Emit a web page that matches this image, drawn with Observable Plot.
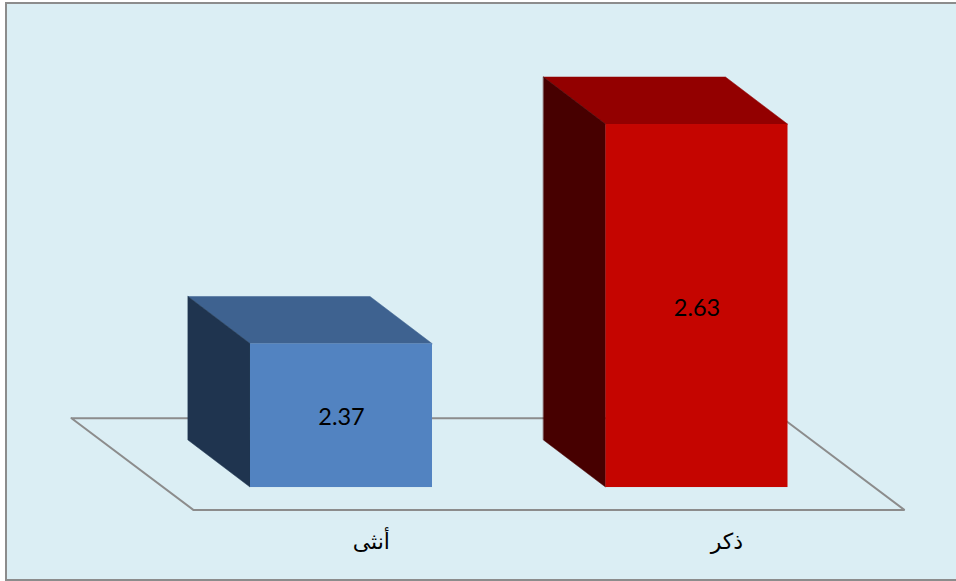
<!DOCTYPE html>
<html lang="ar">
<head>
<meta charset="utf-8">
<script src="https://cdn.jsdelivr.net/npm/d3@7"></script>
<script src="https://cdn.jsdelivr.net/npm/@observablehq/plot@0.6"></script>
<style>
html,body{margin:0;padding:0;background:#fff;width:956px;height:581px;overflow:hidden}
#panel{position:absolute;left:5px;top:2px;width:960px;height:575px;background:#dbeef4;border:2px solid #8c8c8c;box-sizing:content-box}
#chart{position:absolute;left:0;top:0}
#chart svg{background:transparent;display:block}
</style>
</head>
<body>
<div id="panel"></div>
<div id="chart"></div>
<script>
const categories = ["أنثى", "ذكر"];
const values = [2.37, 2.63];
const positions = [0, 1];
const frontColors = ["#5283c1", "#c50500"];
const topColors = ["#3e6290", "#930000"];
const sideColors = ["#1f344f", "#470000"];

const baseline = 2.2;
const labelLevel = 2.136;
const labelShift = 0.084;
const halfWidth = 0.256;
const depthX = 0.1744;
const depthY = 0.0557;
const floorX = [-0.7595, -0.416, 1.584, 1.2405, -0.7595];
const floorY = [2.2821, 2.1733, 2.1733, 2.2821, 2.2821];

const floor = floorX.map((x, i) => ({x, y: floorY[i]}));
const bars = categories.map((c, i) => ({c, p: positions[i], v: values[i], front: frontColors[i]}));
const sideFaces = categories.flatMap((c, i) => [
  {c, color: sideColors[i], x: positions[i] - halfWidth - depthX, y1: baseline + depthY, y2: values[i] + depthY},
  {c, color: sideColors[i], x: positions[i] - halfWidth, y1: baseline, y2: values[i]}
]);
const topFaces = categories.flatMap((c, i) => [
  {c, color: topColors[i], y: values[i], x1: positions[i] - halfWidth, x2: positions[i] + halfWidth},
  {c, color: topColors[i], y: values[i] + depthY, x1: positions[i] - halfWidth - depthX, x2: positions[i] + halfWidth - depthX}
]);

const chart = Plot.plot({
  width: 956,
  height: 581,
  margin: 0,
  style: {background: "transparent"},
  x: {domain: [-0.9592, 1.73], range: [0, 956], axis: null},
  y: {domain: [2.0887, 2.7769], range: [581, 0], axis: null},
  marks: [
    Plot.line(floor, {x: "x", y: "y", stroke: "#8c8c8c", strokeWidth: 2, strokeLinejoin: "miter"}),
    Plot.areaX(topFaces, {y: "y", x1: "x1", x2: "x2", z: "c", fill: "color", stroke: "color", strokeWidth: 0.5}),
    Plot.areaY(sideFaces, {x: "x", y1: "y1", y2: "y2", z: "c", fill: "color", stroke: "color", strokeWidth: 0.5}),
    Plot.rect(bars, {
      x1: d => d.p - halfWidth,
      x2: d => d.p + halfWidth,
      y1: baseline,
      y2: "v",
      fill: "front"
    }),
    Plot.text(bars, {
      x: "p",
      y: d => (baseline + d.v) / 2,
      text: d => d.v.toFixed(2),
      fill: "black",
      fontSize: 23.5,
      fontFamily: "Lato",
      dy: 2
    }),
    Plot.text(bars, {
      x: d => d.p + labelShift,
      y: labelLevel,
      text: "c",
      fill: "black",
      fontSize: 22,
      fontFamily: "DejaVu Sans, Noto Sans"
    })
  ]
});
document.getElementById("chart").append(chart);
</script>
</body>
</html>
